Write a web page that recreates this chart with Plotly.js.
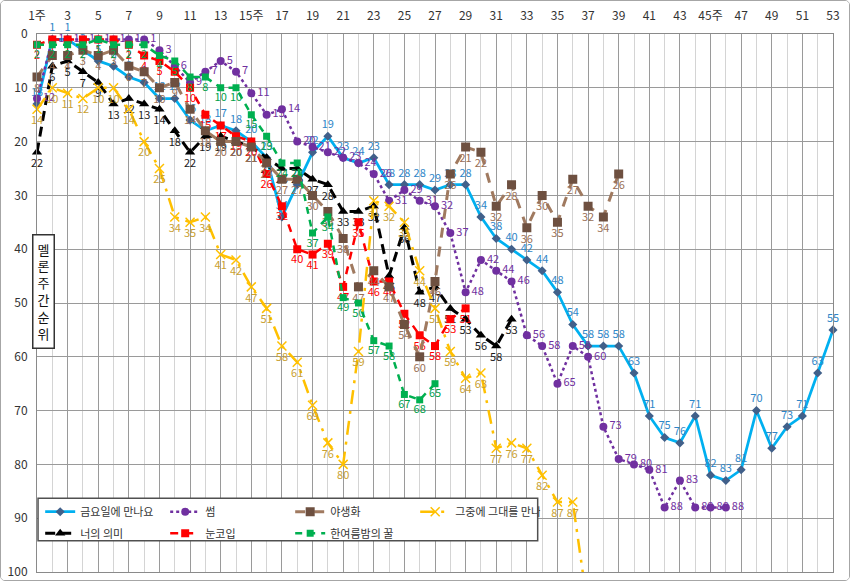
<!DOCTYPE html>
<html><head><meta charset="utf-8">
<script src="https://cdn.plot.ly/plotly-3.0.1.min.js"></script>
<style>
html,body{margin:0;padding:0;background:#fff}
#wrap{width:848px;height:579px;border:1px solid #a6a6a6;border-radius:5px;overflow:hidden}
#chart{width:848px;height:579px}
</style></head>
<body><div id="wrap"><div id="chart"></div></div>
<script>
const weeks = [1,2,3,4,5,6,7,8,9,10,11,12,13,14,15,16,17,18,19,20,21,22,23,24,25,26,27,28,29,30,31,32,33,34,35,36,37,38,39,40,41,42,43,44,45,46,47,48,49,50,51,52,53];
const tickWeeks = [1,3,5,7,9,11,13,15,17,19,21,23,25,27,29,31,33,35,37,39,41,43,45,47,49,51,53];
const tickLabels = ['1주','3','5','7','9','11','13','15주','17','19','21','23','25','27','29','31','33','35','37','39','41','43','45주','47','49','51','53'];
const minorWeeks = [2,4,6,8,10,12,14,16,18,20,22,24,26,28,30,32,34,36,38,40,42,44,46,48,50,52];
const rankTicks = [0,10,20,30,40,50,60,70,80,90,100];

const fridayName = '금요일에 만나요';
const friday = [13,1,1,3,5,6,8,9,12,12,16,18,17,18,20,23,34,28,22,19,23,24,23,28,28,28,29,28,28,34,38,40,42,44,48,54,58,58,58,63,71,75,76,71,82,83,81,70,77,73,71,63,55];
const meaningName = '너의 의미';
const meaning = [22,6,5,7,9,13,12,13,14,18,22,19,19,20,21,23,25,25,27,28,33,33,32,45,36,48,47,51,53,56,58,53];
const someName = '썸';
const some = [12,1,1,1,1,1,1,1,3,6,9,7,5,7,11,15,14,20,21,22,23,24,26,31,29,31,32,37,48,42,44,46,56,58,65,58,60,73,79,80,81,88,83,88,88,88];
const eyesName = '눈코입';
const eyes = [2,1,1,1,1,1,2,4,5,7,10,15,17,19,20,26,32,40,41,39,47,35,46,46,52,56,58,53,51];
const wildName = '야생화';
const wild = [8,4,4,3,4,3,6,7,10,9,14,18,20,20,21,24,27,27,30,33,38,47,44,47,54,60,46,26,21,22,32,28,36,30,35,27,32,34,26];
const honeyName = '한여름밤의 꿀';
const honey = [2,2,2,2,1,2,2,2,4,5,8,8,10,10,15,19,24,24,37,34,49,50,57,58,67,68,65];
const meetName = '그중에 그대를 만나';
const meet = [14,10,11,12,10,10,14,20,25,34,35,34,41,42,47,51,58,61,69,76,80,59,31,32,35,44,51,59,64,63,77,76,77,82,87,87,107];

const FONT = '"Noto Sans CJK KR", "Noto Sans", sans-serif';
const AXIS_MAX = 100;

function series(name, vals, legend, line, marker, textpos, textcolor) {
  return {
    type: 'scatter', mode: 'lines+markers+text', name: name,
    x: weeks.slice(0, vals.length), y: vals,
    text: vals.map(v => v > AXIS_MAX ? '' : String(v)), textposition: textpos,
    textfont: {family: FONT, size: 11, color: textcolor},
    line: line, marker: marker, legend: legend, cliponaxis: false, hoverinfo: 'skip'
  };
}

const traces = [
  series(fridayName, friday, 'legend', {color:'#00B0F0', width:2.75},
    {symbol:'diamond', size:7, color:'#41608A'}, 'top center', '#2E86C8'),
  series(meaningName, meaning, 'legend2', {color:'#000000', width:3, dash:'10px,6px'},
    {symbol:'triangle-up', size:9, color:'#000000'}, 'bottom center', '#1a1a1a'),
  series(someName, some, 'legend', {color:'#7030A0', width:2.5, dash:'dot'},
    {symbol:'circle', size:8, color:'#7030A0'}, 'middle right', '#7030A0'),
  series(eyesName, eyes, 'legend2', {color:'#FF0000', width:2.5, dash:'8px,7px'},
    {symbol:'square', size:8, color:'#FF0000'}, 'bottom center', '#FF0000'),
  series(wildName, wild, 'legend', {color:'#A07A60', width:3, dash:'10px,9px'},
    {symbol:'square', size:9, color:'#6E5040'}, 'bottom center', '#9A6F55'),
  series(honeyName, honey, 'legend2', {color:'#00B050', width:2.5, dash:'7px,6px'},
    {symbol:'square', size:7, color:'#00B050'}, 'bottom center', '#00A04A'),
  series(meetName, meet, 'legend', {color:'#FFC000', width:2.5, dash:'14px,7px,3px,7px'},
    {symbol:'x-thin-open', size:9, color:'#FFC000', line:{color:'#FFC000', width:1.5}}, 'bottom center', '#C9A030')
];

const legendBase = {
  orientation: 'h', x: 0.004, xanchor: 'left', yanchor: 'middle',
  entrywidth: 80, entrywidthmode: 'pixels', bgcolor: 'rgba(0,0,0,0)', borderwidth: 0,
  font: {family: FONT, size: 11, color: '#333'}, traceorder: 'normal', itemwidth: 30
};

const layout = {
  width: 848, height: 579,
  margin: {l:36, r:16, t:33, b:8},
  paper_bgcolor: '#ffffff', plot_bgcolor: '#ffffff',
  font: {family: FONT, size: 12, color: '#333'},
  showlegend: true,
  xaxis: {
    range: [1, 53], side: 'top', tickmode: 'array', tickvals: tickWeeks, ticktext: tickLabels,
    ticks: '', ticklabelstandoff: 8, tickfont: {size: 12, color: '#333', family: FONT},
    showgrid: true, gridcolor: '#9a9a9a', gridwidth: 1,
    minor: {tickmode: 'array', tickvals: minorWeeks, showgrid: true, gridcolor: '#d4d4d4', gridwidth: 1, ticks: ''},
    showline: true, mirror: true, linecolor: '#8a8a8a', linewidth: 1, zeroline: false, fixedrange: true
  },
  yaxis: {
    range: [100, 0], tickmode: 'array', tickvals: rankTicks, ticks: '',
    tickfont: {size: 12, color: '#333', family: FONT}, ticklabelstandoff: 6,
    showgrid: true, gridcolor: '#9a9a9a', gridwidth: 1,
    showline: true, mirror: true, linecolor: '#8a8a8a', linewidth: 1, zeroline: false, fixedrange: true
  },
  legend: Object.assign({}, legendBase, {y: 0.112}),
  legend2: Object.assign({}, legendBase, {y: 0.072}),
  shapes: [
    {type: 'rect', xref: 'paper', yref: 'paper', x0: 0.0013, x1: 0.629, y0: 0.058, y1: 0.137,
     line: {color: '#505050', width: 1.5}, fillcolor: '#ffffff', layer: 'above'}
  ],
  annotations: [
    {xref: 'paper', yref: 'paper', x: 0.0082, y: 0.522, xanchor: 'center', yanchor: 'middle',
     text: '멜<br>론<br>주<br>간<br>순<br>위', showarrow: false,
     font: {family: FONT, size: 13, color: '#111'}, bgcolor: '#ffffff',
     bordercolor: '#333', borderwidth: 1.5, borderpad: 4}
  ]
};

Plotly.newPlot('chart', traces, layout, {staticPlot: true, displayModeBar: false});
</script>
</body></html>
